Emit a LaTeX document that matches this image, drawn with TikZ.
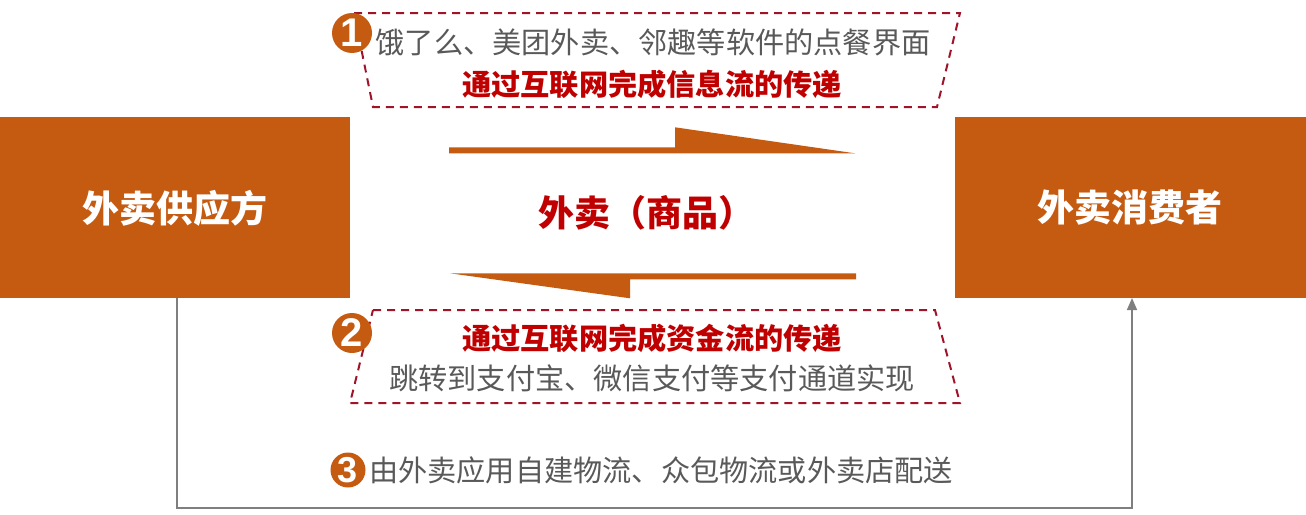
\documentclass[tikz,border=0pt]{standalone}
\usepackage{fontspec}
\setmainfont{Liberation Sans}
\newfontfamily\cjk{Noto Sans CJK SC}
\usetikzlibrary{arrows.meta}
\definecolor{orng}{HTML}{C55A11}
\definecolor{dred}{HTML}{C00000}
\definecolor{txtgray}{HTML}{595959}
\definecolor{dashred}{HTML}{A0142A}
\definecolor{linegray}{HTML}{7F7F7F}
\tikzset{
  party/.style={fill=orng, draw=none},
  partytext/.style={text=white, font=\cjk\bfseries\fontsize{37}{40}\selectfont, inner sep=0},
  graytext/.style={text=txtgray, font=\cjk\fontsize{29.2}{32}\selectfont, inner sep=0},
  redtext/.style={text=dred, font=\cjk\bfseries\fontsize{29.2}{32}\selectfont, inner sep=0},
  dashbox/.style={draw=dashred, line width=2pt, dash pattern=on 8pt off 6pt},
  numcircle/.style={circle, fill=orng, text=white, font=\bfseries\fontsize{40}{40}\selectfont, inner sep=0},
  flowarrow/.style={fill=orng, draw=none},
  conn/.style={draw=linegray, line width=1.5pt}
}
\begin{document}
\begin{tikzpicture}[x=1pt,y=-1pt]
\useasboundingbox (0,0) rectangle (1306,514);
% parties
\fill[party] (0,117) rectangle (350,298);
\fill[party] (955,117) rectangle (1306,298);
\node[partytext] (sup) at (175,208) {外卖供应方};
\node[partytext] (con) at (1130,208) {外卖消费者};
\coordinate (supB) at (177,298);
\coordinate (conB) at (1132,298);
% connector 3
\coordinate (c1) at (177,508);
\coordinate (c2) at (1132,508);
\draw[conn, -{Triangle[length=12pt,width=10pt]}] (supB) -- (c1) -- (c2) -- (conB);
% flow arrows
\fill[flowarrow] (449,147.3) -- (675,147.3) -- (675,127.3) -- (855,153.3) -- (449,153.3) -- cycle;
\fill[flowarrow] (856,273.3) -- (450,273.3) -- (630,298.3) -- (630,279.3) -- (856,279.3) -- cycle;
\node[text=dred, font=\cjk\bfseries\fontsize{36}{40}\selectfont, inner sep=0] (goods) at (646,213) {外卖（商品）};
% top dashed box
\draw[dashbox] (354,13) -- (960,13) -- (937,107) -- (373,107) -- cycle;
\node[graytext] (t1) at (653,42) {饿了么、美团外卖、邻趣等软件的点餐界面};
\node[redtext] (t2) at (652,84) {通过互联网完成信息流的传递};
\node[numcircle, minimum size=40pt] (n1) at (352,33) {1};
% bottom dashed box
\draw[dashbox] (373,310) -- (935,310) -- (960,403) -- (350,403) -- cycle;
\node[redtext] (b1) at (652,338) {通过互联网完成资金流的传递};
\node[graytext] (b2) at (652,378) {跳转到支付宝、微信支付等支付通道实现};
\node[numcircle, minimum size=40pt] (n2) at (352,333) {2};
% step 3
\node[graytext] (l3) at (661,470) {由外卖应用自建物流、众包物流或外卖店配送};
\node[numcircle, minimum size=35pt, font=\bfseries\fontsize{36}{36}\selectfont] (n3) at (348,470) {3};
\end{tikzpicture}
\end{document}
